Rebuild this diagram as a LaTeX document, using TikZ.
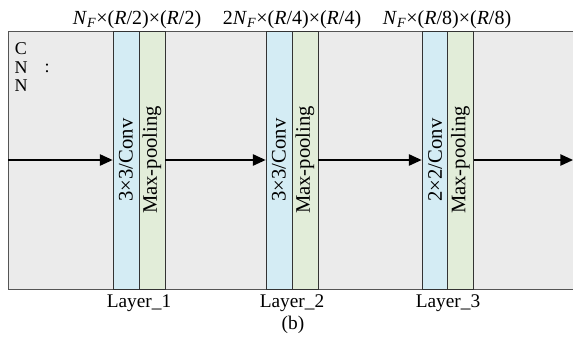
\documentclass[tikz,border=0pt]{standalone}
\usepackage{fontspec}
\setmainfont{Liberation Serif}
\usetikzlibrary{arrows.meta}
\definecolor{bgc}{HTML}{EBEBEB}
\definecolor{convc}{HTML}{D4ECF4}
\definecolor{poolc}{HTML}{E2EDD9}
\definecolor{edgec}{HTML}{555555}
\tikzset{
  strip/.style={draw=black!80, line width=0.6pt, rotate=90, minimum width=193.5pt, minimum height=19.5pt, inner sep=0pt, font=\fontsize{15.5}{17}\selectfont},
  convbox/.style={strip, fill=convc},
  poolbox/.style={strip, fill=poolc},
  arr/.style={line width=1pt, -{Triangle[length=9.5pt,width=8.5pt]}},
  lbl/.style={inner sep=0pt, font=\fontsize{14.5}{16}\selectfont},
  toplbl/.style={inner sep=0pt, font=\fontsize{15}{17}\selectfont},
  cnnlbl/.style={inner sep=0pt, font=\fontsize{13.5}{15}\selectfont},
}
\begin{document}
\begin{tikzpicture}[x=0.75pt,y=-0.75pt]
\useasboundingbox (0,0) rectangle (573,340);
\fill[bgc] (8,31) rectangle (573,289);
\draw[edgec, line width=0.7pt] (573,31) -- (8,31) -- (8,289) -- (573,289);
\node[cnnlbl] (cc) at (21,49) {C};
\node[cnnlbl] (cn1) at (21,67.5) {N};
\node[cnnlbl] (cn2) at (21,85.5) {N};
\node[cnnlbl] (colon) at (47,68) {:};
% layers
\node[convbox] (c1) at (126,160) {3×3/Conv};
\node[poolbox] (p1) at (152,160) {Max-pooling};
\node[convbox] (c2) at (279,160) {3×3/Conv};
\node[poolbox] (p2) at (305,160) {Max-pooling};
\node[convbox] (c3) at (435,160) {2×2/Conv};
\node[poolbox] (p3) at (460.5,160) {Max-pooling};
\coordinate (in) at (8,160);
\coordinate (out) at (573,160);
\draw[arr] (in) -- (c1.north);
\draw[arr] (p1.south) -- (c2.north);
\draw[arr] (p2.south) -- (c3.north);
\draw[arr] (p3.south) -- (out);
% top labels
\node[toplbl] (t1) at (137,20) {\textit{N}\textsubscript{\textit{F}}×(\textit{R}/2)×(\textit{R}/2)};
\node[toplbl] (t2) at (292,20) {2\textit{N}\textsubscript{\textit{F}}×(\textit{R}/4)×(\textit{R}/4)};
\node[toplbl] (t3) at (447,20) {\textit{N}\textsubscript{\textit{F}}×(\textit{R}/8)×(\textit{R}/8)};
% bottom labels
\node[lbl] (l1) at (139,303) {Layer\_1};
\node[lbl] (l2) at (292,303) {Layer\_2};
\node[lbl] (l3) at (448,303) {Layer\_3};
\node[lbl] (b) at (293,324.5) {(b)};
\end{tikzpicture}
\end{document}
